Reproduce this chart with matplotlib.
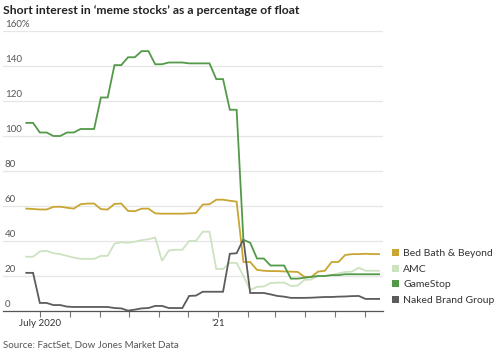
import pandas as pd
import numpy as np
import matplotlib
matplotlib.use("Agg")
import matplotlib.pyplot as plt
import matplotlib.dates as mdates
from matplotlib.patches import Patch

plt.rcParams["font.family"] = ["Lato", "DejaVu Sans"]

# weekly short interest readings, % of float
dates = pd.date_range("2020-06-17", periods=53, freq="7D")

bbby = [58.5, 58.3, 58, 58, 59.5, 59.6, 59, 58.5, 61, 61.4, 61.4, 58.2, 58, 61.2,
        61.4, 57.2, 57, 58.5, 58.5, 55.8, 55.6, 55.6, 55.6, 55.6, 55.8, 56, 60.8,
        61, 63.6, 63.6, 63, 62.5, 28, 28, 23.5, 23, 22.8, 22.8, 22.6, 22.5, 22.3,
        19.5, 19.5, 22.5, 23, 28, 28, 32, 32.5, 32.5, 32.7, 32.5, 32.5]
amc = [31, 31, 34, 34.4, 33, 32.5, 31.5, 30.5, 29.8, 29.8, 29.8, 31.5, 31.5, 38.5,
       39.3, 39, 39.6, 40.5, 41, 42, 28.7, 34.5, 35, 35, 40, 40, 45.3, 45.3, 24,
       24, 27.5, 27.5, 20, 12, 13.8, 14, 16, 16.2, 16.2, 14.3, 14.5, 17.8, 18, 20,
       20, 20.5, 21.5, 22.3, 22.5, 24.7, 23, 23, 23]
gme = [107.5, 107.5, 102, 102, 100, 100, 102, 102, 104, 104, 104, 122, 122, 140.5,
       140.5, 145, 145, 148.5, 148.5, 141, 141, 142, 142, 142, 141.5, 141.5, 141.5,
       141.5, 132.5, 132.5, 115, 115, 40.7, 39, 30, 30, 26, 26, 26, 18.5, 18.5, 19,
       19.5, 20, 20, 20.5, 20.5, 21, 21, 21, 21, 21, 21]
naked = [21.8, 21.8, 4.6, 4.6, 3.4, 3.4, 2.5, 2.3, 2.3, 2.3, 2.3, 2.3, 2.3, 1.7,
         1.5, 0.2, 0.8, 1.5, 1.7, 2.9, 2.9, 1.7, 1.7, 1.7, 8.6, 8.8, 11, 11, 11, 11,
         32.7, 33, 41, 10.3, 10.3, 10.3, 9.5, 8.6, 8.2, 7.5, 7.5, 7.5, 7.6, 7.8, 8,
         8, 8.2, 8.3, 8.5, 8.6, 6.9, 6.9, 6.9]

names = ["Bed Bath & Beyond", "AMC", "GameStop", "Naked Brand Group"]
colors = ["#c9a534", "#cde2c0", "#539a48", "#5c5c5c"]
yticks = [0, 20, 40, 60, 80, 100, 120, 140, 160]

W, H = 500, 354
fig = plt.figure(figsize=(W / 100, H / 100), dpi=100)
ax = fig.add_axes([3 / W, 1 - 311 / H, 380 / W, 280 / H])

# AMC drawn first so the others sit on top
order = [1, 0, 3, 2]
series = [bbby, amc, gme, naked]
for k in order:
    ax.plot(dates, series[k], color=colors[k], lw=1.3, clip_on=False,
            solid_joinstyle="miter")

ax.set_ylim(0, 160)
ax.set_xlim(pd.Timestamp("2020-05-24"), pd.Timestamp("2021-06-20"))
ax.set_yticks(yticks)
ax.tick_params(axis="y", length=0, labelleft=False)
ax.grid(axis="y", color="#e6e6e6", lw=0.9)
ax.set_axisbelow(True)

for s in ["top", "right", "left"]:
    ax.spines[s].set_visible(False)
ax.spines["bottom"].set_color("#555555")
ax.spines["bottom"].set_linewidth(0.9)

for v in yticks:
    lab = "160%" if v == 160 else str(v)
    ax.text(0.005, v + 1.2, lab, transform=ax.get_yaxis_transform(),
            ha="left", va="bottom", fontsize=7, color="#555555")

months = pd.date_range("2020-07-01", "2021-06-01", freq="MS")
ax.set_xticks(months)
ax.set_xticklabels(["July 2020" if m.month == 7 else ("’21" if m.month == 1 else "")
                    for m in months], fontsize=7, color="#333333")
ax.tick_params(axis="x", length=4, width=0.8, color="#777777", pad=2)

handles = [Patch(facecolor=c, edgecolor="none") for c in colors]
fig.legend(handles, names, loc="upper left", bbox_to_anchor=(392 / W, 1 - 249 / H),
           frameon=False, fontsize=7.5, handlelength=0.7, handleheight=0.7,
           handletextpad=0.4, labelspacing=0.6, labelcolor="#333333",
           borderaxespad=0, borderpad=0)

fig.text(3 / W, 1 - 11 / H, "Short interest in ‘meme stocks’ as a percentage of float",
         fontsize=8.7, fontweight="bold", color="#222222", va="center")
fig.text(3 / W, 1 - 345 / H, "Source: FactSet, Dow Jones Market Data",
         fontsize=7, color="#555555", va="center")

fig.savefig("out.png", dpi=100)
